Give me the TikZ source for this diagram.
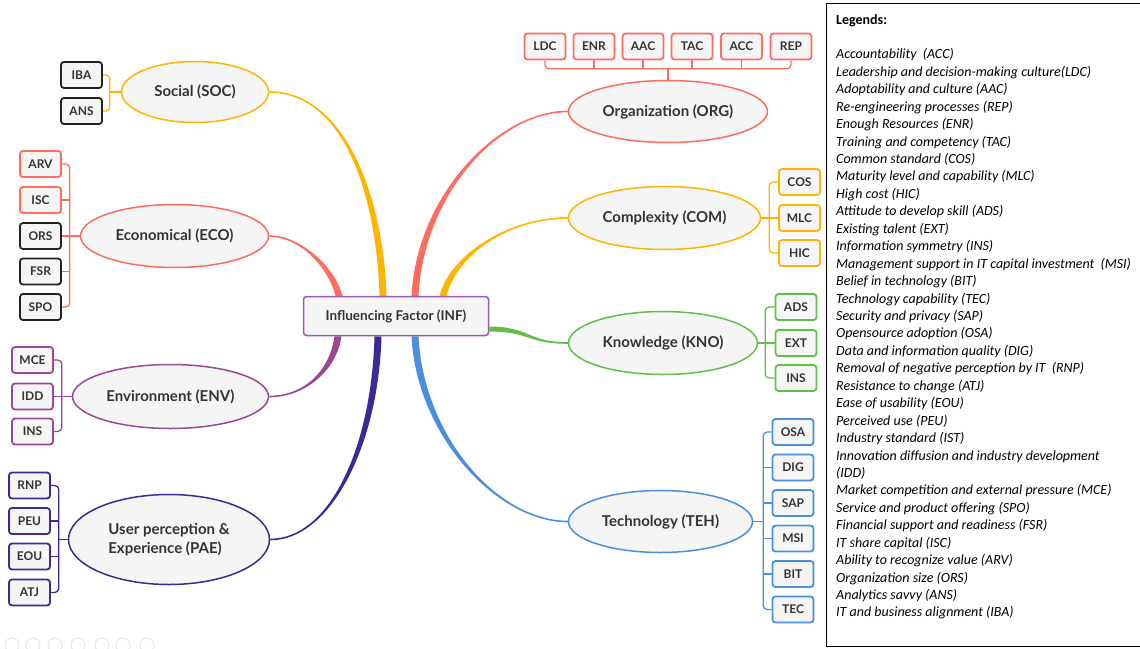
\documentclass[tikz,border=0pt]{standalone}
\usepackage{fontspec}
\setmainfont{Carlito}
\newfontfamily\mapfont{Lato}
\usetikzlibrary{shapes.geometric,calc,backgrounds}

\definecolor{amber}{HTML}{FFB400}
\definecolor{salmon}{HTML}{FF6B5E}
\definecolor{plum}{HTML}{9B4696}
\definecolor{indigo}{HTML}{3C2896}
\definecolor{grass}{HTML}{62BE48}
\definecolor{sky}{HTML}{4A8FDF}
\definecolor{infcol}{HTML}{9B59B6}
\definecolor{boxfill}{HTML}{F5F5F5}
\definecolor{txtcol}{HTML}{333333}
\definecolor{blk}{HTML}{222222}

\newcommand{\legskip}{17.44pt}
% tapered branch: colour, start node, end coordinate, start control, end control, half width at end
\newcommand{\branch}[6]{%
  \fill[#1] ($(#2)+(0,-0.8)$) .. controls ($(#2)+#4+(0,-0.8)$) and ($(#3)+#5+#6$) .. ($(#3)+#6$)
    -- ($(#3)-#6$) .. controls ($(#3)+#5-#6$) and ($(#2)+#4+(0,0.8)$) .. ($(#2)+(0,0.8)$) -- cycle;}

\begin{document}
\begin{tikzpicture}[x=1pt,y=-1pt,
   hub/.style={rectangle,rounded corners=3,draw=infcol,line width=1.5,fill=boxfill,
     minimum width=185,minimum height=39,text=txtcol,font=\mapfont\bfseries\fontsize{13.5}{16}\selectfont},
   topic/.style={ellipse,inner sep=0,line width=1.5,fill=boxfill,text=txtcol,
     font=\mapfont\bfseries\fontsize{15}{19}\selectfont},
   leaf/.style={rectangle,rounded corners=3,line width=1.8,fill=boxfill,inner sep=0,
     minimum width=41,minimum height=26,text=txtcol,font=\mapfont\bfseries\fontsize{12}{14}\selectfont},
   link/.style={line width=1.3,rounded corners=4},
   legend/.style={inner sep=0,align=left,font=\itshape\fontsize{14}{17.44}\selectfont}]
   \useasboundingbox (0,0) rectangle (1140,648);

   % centre
   \node[hub] (inf) at (396,316) {Influencing Factor (INF)};

   % topics
   \node[topic,draw=amber,minimum width=147,minimum height=61] (soc) at (195,92) {Social (SOC)};
   \node[topic,draw=salmon,minimum width=188,minimum height=63] (eco) at (174.5,236) {Economical (ECO)};
   \node[topic,draw=plum,minimum width=196,minimum height=64] (env) at (170.5,396.5) {Environment (ENV)};
   \node[topic,draw=indigo,minimum width=201,minimum height=90,align=left] (pae) at (169,539.5) {User perception \&\\Experience (PAE)};
   \node[topic,draw=salmon,minimum width=199,minimum height=62] (org) at (668,111.5) {Organization (ORG)};
   \node[topic,draw=amber,minimum width=192,minimum height=63] (com) at (664.5,218) {Complexity (COM)};
   \node[topic,draw=grass,minimum width=189,minimum height=63] (kno) at (663,343) {Knowledge (KNO)};
   \node[topic,draw=sky,minimum width=184,minimum height=62] (teh) at (660.5,521.5) {Technology (TEH)};

   % social
   \node[leaf,draw=blk] (iba) at (81.5,75) {IBA};
   \node[leaf,draw=blk] (ans) at (81.5,111) {ANS};
   % economical
   \node[leaf,draw=salmon] (arv) at (40.5,164) {ARV};
   \node[leaf,draw=salmon] (isc) at (40.5,200) {ISC};
   \node[leaf,draw=blk] (ors) at (40.5,236) {ORS};
   \node[leaf,draw=blk] (fsr) at (40.5,271.5) {FSR};
   \node[leaf,draw=blk] (spo) at (40.5,307) {SPO};
   % environment
   \node[leaf,draw=plum] (mce) at (32.5,360) {MCE};
   \node[leaf,draw=plum] (idd) at (32.5,396.5) {IDD};
   \node[leaf,draw=plum] (envins) at (32.5,431.5) {INS};
   % user perception
   \node[leaf,draw=indigo] (rnp) at (29.5,485.5) {RNP};
   \node[leaf,draw=indigo] (peu) at (29.5,521) {PEU};
   \node[leaf,draw=indigo] (eou) at (29.5,556.5) {EOU};
   \node[leaf,draw=indigo] (atj) at (29.5,592.5) {ATJ};
   % organization
   \node[leaf,draw=salmon] (ldc) at (545,46.5) {LDC};
   \node[leaf,draw=salmon] (enr) at (594,46.5) {ENR};
   \node[leaf,draw=salmon] (aac) at (643,46.5) {AAC};
   \node[leaf,draw=salmon] (tac) at (692,46.5) {TAC};
   \node[leaf,draw=salmon] (acc) at (741.5,46.5) {ACC};
   \node[leaf,draw=salmon] (rep) at (791,46.5) {REP};
   % complexity
   \node[leaf,draw=amber] (cos) at (799.5,182) {COS};
   \node[leaf,draw=amber] (mlc) at (799.5,218) {MLC};
   \node[leaf,draw=amber] (hic) at (799.5,253) {HIC};
   % knowledge
   \node[leaf,draw=grass] (ads) at (796,307) {ADS};
   \node[leaf,draw=grass] (ext) at (796,343) {EXT};
   \node[leaf,draw=grass] (knoins) at (796,378) {INS};
   % technology
   \node[leaf,draw=sky] (osa) at (793,432) {OSA};
   \node[leaf,draw=sky] (dig) at (793,467.5) {DIG};
   \node[leaf,draw=sky] (sap) at (793,503) {SAP};
   \node[leaf,draw=sky] (msi) at (793,538.5) {MSI};
   \node[leaf,draw=sky] (bit) at (793,574) {BIT};
   \node[leaf,draw=sky] (tec) at (793,609.5) {TEC};

   % bracket spines
   \coordinate (socb) at ($(soc.west)+(-11,0)$);
   \coordinate (ecob) at ($(eco.west)+(-10,0)$);
   \coordinate (envb) at ($(env.west)+(-10,0)$);
   \coordinate (paeb) at ($(pae.west)+(-9,0)$);
   \coordinate (orgb) at ($(org.north)+(0,-11)$);
   \coordinate (comb) at ($(com.east)+(8,0)$);
   \coordinate (knob) at ($(kno.east)+(7,0)$);
   \coordinate (tehb) at ($(teh.east)+(10,0)$);

   \draw[link,amber] (iba.east) -| (socb) |- (ans.east);
   \draw[link,amber] (soc.west) -- (socb);

   \draw[link,salmon] (arv.east) -| (ecob) |- (spo.east);
   \draw[link,salmon] (isc.east) -- (isc.east -| ecob);
   \draw[link,salmon] (fsr.east) -- (fsr.east -| ecob);
   \draw[link,salmon] (eco.west) -- (ors.east);

   \draw[link,plum] (mce.east) -| (envb) |- (envins.east);
   \draw[link,plum] (env.west) -- (idd.east);

   \draw[link,indigo] (rnp.east) -| (paeb) |- (atj.east);
   \draw[link,indigo] (peu.east) -- (peu.east -| paeb);
   \draw[link,indigo] (eou.east) -- (eou.east -| paeb);
   \draw[link,indigo] (pae.west) -- (paeb);

   \draw[link,salmon] (ldc.south) |- (orgb) -| (rep.south);
   \draw[link,salmon] (enr.south) -- (enr.south |- orgb);
   \draw[link,salmon] (aac.south) -- (aac.south |- orgb);
   \draw[link,salmon] (tac.south) -- (tac.south |- orgb);
   \draw[link,salmon] (acc.south) -- (acc.south |- orgb);
   \draw[link,salmon] (org.north) -- (orgb);

   \draw[link,amber] (cos.west) -| (comb) |- (hic.west);
   \draw[link,amber] (com.east) -- (mlc.west);

   \draw[link,grass] (ads.west) -| (knob) |- (knoins.west);
   \draw[link,grass] (kno.east) -- (ext.west);

   \draw[link,sky] (osa.west) -| (tehb) |- (tec.west);
   \draw[link,sky] (dig.west) -- (dig.west -| tehb);
   \draw[link,sky] (sap.west) -- (sap.west -| tehb);
   \draw[link,sky] (msi.west) -- (msi.west -| tehb);
   \draw[link,sky] (bit.west) -- (bit.west -| tehb);
   \draw[link,sky] (teh.east) -- (tehb);

   % main branches
   \coordinate (socin) at ($(inf.north)+(-13,0)$);
   \coordinate (ecoin) at ($(inf.north)+(-57,0)$);
   \coordinate (envin) at ($(inf.south)+(-58,0)$);
   \coordinate (paein) at ($(inf.south)+(-18,0)$);
   \coordinate (orgin) at ($(inf.north)+(19,0)$);
   \coordinate (comin) at ($(inf.north)+(47,0)$);
   \coordinate (knoin) at ($(inf.east)+(0,13)$);
   \coordinate (tehin) at ($(inf.south)+(19,0)$);
   \begin{scope}[on background layer]
     \branch{amber}{soc.east}{socin}{(75,0)}{(-3,-100)}{(3.5,0)}
     \branch{salmon}{eco.east}{ecoin}{(30,0)}{(-8,-30)}{(3.5,0)}
     \branch{plum}{env.east}{envin}{(35,0)}{(-5,35)}{(-3.5,0)}
     \branch{indigo}{pae.east}{paein}{(60,0)}{(-3,110)}{(-3.5,0)}
     \branch{salmon}{org.west}{orgin}{(-70,0)}{(5,-100)}{(-3.5,0)}
     \branch{amber}{com.west}{comin}{(-60,0)}{(10,-40)}{(-3.5,0)}
     \branch{grass}{kno.west}{knoin}{(-40,0)}{(40,0)}{(0,-2.5)}
     \branch{sky}{teh.west}{tehin}{(-70,0)}{(5,100)}{(3.5,0)}
   \end{scope}

   % legend
   \draw[line width=1] (826,3) rectangle (1142,646);
   \node[legend,anchor=north west] (leg) at (836,14) {{\normalfont\bfseries Legends:}\\[\legskip]
     Accountability\ \ (ACC)\\
     Leadership and decision-making culture(LDC)\\
     Adoptability and culture (AAC)\\
     Re-engineering processes (REP)\\
     Enough Resources (ENR)\\
     Training and competency (TAC)\\
     Common standard (COS)\\
     Maturity level and capability (MLC)\\
     High cost (HIC)\\
     Attitude to develop skill (ADS)\\
     Existing talent (EXT)\\
     Information symmetry (INS)\\
     Management support in IT capital investment\ \ (MSI)\\
     Belief in technology (BIT)\\
     Technology capability (TEC)\\
     Security and privacy (SAP)\\
     Opensource adoption (OSA)\\
     Data and information quality (DIG)\\
     Removal of negative perception by IT\ \ (RNP)\\
     Resistance to change (ATJ)\\
     Ease of usability (EOU)\\
     Perceived use (PEU)\\
     Industry standard (IST)\\
     Innovation diffusion and industry development\\
     (IDD)\\
     Market competition and external pressure (MCE)\\
     Service and product offering (SPO)\\
     Financial support and readiness (FSR)\\
     IT share capital (ISC)\\
     Ability to recognize value (ARV)\\
     Organization size (ORS)\\
     Analytics savvy (ANS)\\
     IT and business alignment (IBA)};

   % faint viewer toolbar
   \draw[gray!20,line width=1] (12,645) circle (7) (33,645) circle (7) (55,645) circle (7)
     (78,645) circle (7) (102,645) circle (7) (123,645) circle (7) (147,645) circle (7);
\end{tikzpicture}
\end{document}
